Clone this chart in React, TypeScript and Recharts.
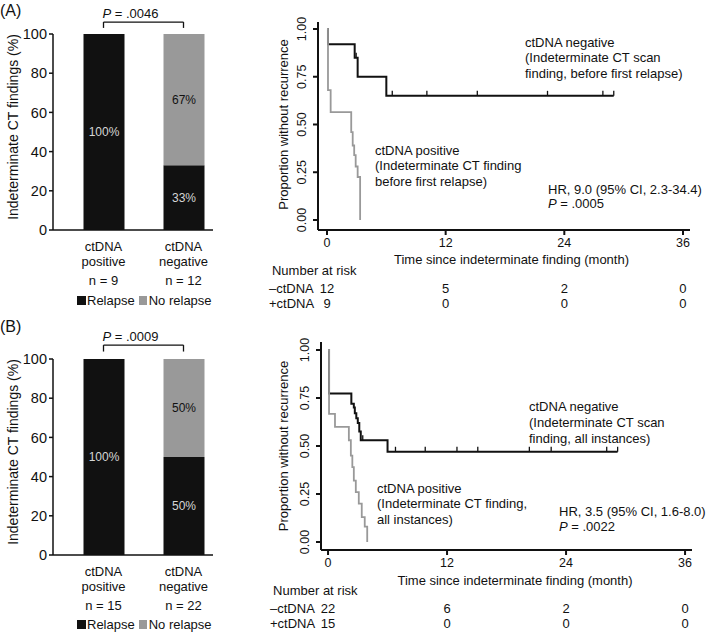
import React from 'react';
import {
  BarChart,
  Bar,
  XAxis,
  YAxis,
  LabelList,
  ReferenceLine,
  Label,
  Legend,
  LineChart,
  Line,
} from 'recharts';

const FONT = '"Liberation Sans", Arial, Helvetica, sans-serif';
const INK = '#111';
const GREY = '#999';

// ---- stacked bar panels ----
const groupNames = ['ctDNA positive', 'ctDNA negative'];
const groupSizesA = [9, 12];
const groupSizesB = [15, 22];
const relapseA = [100, 33];
const noRelapseA = [0, 67];
const relapseB = [100, 50];
const noRelapseB = [0, 50];
const barTicks = [0, 20, 40, 60, 80, 100];
const legendOrder = ['Relapse', 'No relapse'];
const pBarA = '.0046';
const pBarB = '.0009';

// ---- Kaplan-Meier panels ----
const kmTicksX = [0, 12, 24, 36];
const kmTicksY = [0, 0.25, 0.5, 0.75, 1];

const negTimesA = [0, 0.1, 2.8, 3.1, 6.0, 29.0];
const negSurvA = [1, 0.92, 0.85, 0.75, 0.65, 0.65];
const negCensorA = [2.95, 6.6, 10.1, 15.2, 22.3, 27.9, 29.0];
const posTimesA = [0, 0.1, 0.37, 2.45, 2.6, 2.75, 2.9, 3.1, 3.35];
const posSurvA = [1, 0.68, 0.565, 0.46, 0.39, 0.34, 0.28, 0.225, 0];
const riskNegA = [12, 5, 2, 0];
const riskPosA = [9, 0, 0, 0];

const negTimesB = [0, 0.1, 2.35, 2.6, 2.7, 2.85, 3.0, 3.15, 3.3, 6.0, 29.2];
const negSurvB = [1, 0.774, 0.72, 0.7, 0.67, 0.645, 0.62, 0.575, 0.53, 0.47, 0.47];
const negCensorB = [3.5, 6.8, 9.8, 13.0, 15.1, 20.3, 22.5, 28.1, 29.2];
const posTimesB = [0, 0.1, 0.7, 2.1, 2.3, 2.45, 2.6, 2.8, 3.1, 3.4, 3.7, 3.95];
const posSurvB = [1, 0.667, 0.6, 0.53, 0.45, 0.39, 0.32, 0.26, 0.2, 0.13, 0.08, 0];
const riskNegB = [22, 6, 2, 0];
const riskPosB = [15, 0, 0, 0];

const negNoteA = ['ctDNA negative', '(Indeterminate CT scan', 'finding, before first relapse)'];
const posNoteA = ['ctDNA positive', '(Indeterminate CT finding', 'before first relapse)'];
const hrA = ['HR, 9.0 (95% CI, 2.3-34.4)', '.0005'];
const negNoteB = ['ctDNA negative', '(Indeterminate CT scan', 'finding, all instances)'];
const posNoteB = ['ctDNA positive', '(Indeterminate CT finding,', 'all instances)'];
const hrB = ['HR, 3.5 (95% CI, 1.6-8.0)', '.0022'];

const barRows = (sizes: number[], relapse: number[], noRelapse: number[]) =>
  groupNames.map((name, i) => ({ name, n: sizes[i], relapse: relapse[i], noRelapse: noRelapse[i] }));

// step points plus censor marks placed on the current step level
function buildCurve(times: number[], surv: number[], censors: number[] = []) {
  const pts = times.map((t, i) => ({ t, s: surv[i], censored: false }));
  censors.forEach((c) => {
    let s = surv[0];
    times.forEach((t, i) => {
      if (t <= c) s = surv[i];
    });
    pts.push({ t: c, s, censored: true });
  });
  return pts.sort((a, b) => a.t - b.t);
}

const censorDot = (props: any) => {
  const { cx, cy, payload, index } = props;
  if (!payload || !payload.censored) return <g key={`d-${index}`} />;
  return <line key={`d-${index}`} x1={cx} y1={cy - 5} x2={cx} y2={cy} stroke={INK} strokeWidth={1.3} />;
};

function BarPanel({ top, height, marginTop, rows, pText, bracketY, bracketEndY, legendTop, titleY }: any) {
  const plotH = 196;
  const renderTick = (p: any) => {
    const row = rows.find((r: any) => r.name === p.payload.value);
    const [w1, w2] = String(p.payload.value).split(' ');
    return (
      <g>
        <text x={p.x} y={p.y + 20.5} textAnchor="middle" fontSize={13} fill={INK}>{w1}</text>
        <text x={p.x} y={p.y + 35.5} textAnchor="middle" fontSize={13} fill={INK}>{w2}</text>
        <text x={p.x} y={p.y + 54.5} textAnchor="middle" fontSize={13} fill={INK}>{`n = ${row ? row.n : ''}`}</text>
      </g>
    );
  };
  const pLabel = (props: any) => {
    const vb = props.viewBox || {};
    return (
      <text x={(vb.x ?? 0) - 1} y={(vb.y ?? 0) - 4} fontSize={13} fill={INK}>
        <tspan fontStyle="italic">P</tspan> = {pText}
      </text>
    );
  };
  return (
    <div style={{ position: 'absolute', left: 0, top }}>
      <BarChart
        width={240}
        height={height}
        data={rows}
        margin={{ top: marginTop, right: 27, left: 13, bottom: height - marginTop - plotH - 30 }}
      >
        <XAxis
          dataKey="name"
          type="category"
          height={30}
          interval={0}
          axisLine={{ stroke: INK, strokeWidth: 1.5 }}
          tickLine={false}
          tickSize={0}
          tickMargin={0}
          padding={{ left: 10.5, right: -10.5 }}
          tick={renderTick}
        />
        <YAxis
          type="number"
          domain={[0, 100]}
          ticks={barTicks}
          width={40}
          axisLine={{ stroke: INK, strokeWidth: 1.5 }}
          tickLine={{ stroke: INK, strokeWidth: 1.5 }}
          tickSize={4}
          tickMargin={2}
          tick={{ fill: INK, fontSize: 14.5 }}
        />
        <Bar dataKey="relapse" name="Relapse" stackId="s" fill={INK} barSize={41} isAnimationActive={false}>
          <LabelList dataKey="relapse" position="center" fill="#d6d6d6" fontSize={12} formatter={(v: any) => `${v}%`} />
        </Bar>
        <Bar dataKey="noRelapse" name="No relapse" stackId="s" fill={GREY} barSize={41} isAnimationActive={false}>
          <LabelList
            dataKey="noRelapse"
            position="center"
            fill={INK}
            fontSize={12}
            formatter={(v: any) => (v > 0 ? `${v}%` : '')}
          />
        </Bar>
        <ReferenceLine
          segment={[{ x: groupNames[0], y: bracketY }, { x: groupNames[1], y: bracketY }]}
          ifOverflow="visible"
          stroke={INK}
          strokeWidth={1.3}
        >
          <Label content={pLabel} />
        </ReferenceLine>
        {groupNames.map((g) => (
          <ReferenceLine
            key={g}
            segment={[{ x: g, y: bracketY }, { x: g, y: bracketEndY }]}
            ifOverflow="visible"
            stroke={INK}
            strokeWidth={1.3}
          />
        ))}
        <Legend
          verticalAlign="middle"
          align="center"
          layout="horizontal"
          wrapperStyle={{ top: legendTop, left: 77, width: 160, height: 16 }}
          content={(props: any) => {
            const items = [...(props.payload || [])].sort(
              (a: any, b: any) => legendOrder.indexOf(a.value) - legendOrder.indexOf(b.value)
            );
            return (
              <div style={{ display: 'flex', alignItems: 'center', fontSize: 13, color: INK, whiteSpace: 'nowrap', fontFamily: FONT }}>
                {items.map((it: any) => (
                  <span key={it.value} style={{ display: 'flex', alignItems: 'center', marginRight: 4 }}>
                    <span style={{ width: 8.5, height: 8.5, background: it.color, marginRight: 1.5, display: 'inline-block' }} />
                    {it.value}
                  </span>
                ))}
              </div>
            );
          }}
        />
        <text transform={`translate(13,${titleY}) rotate(-90)`} textAnchor="middle" dy="0.35em" fontSize={14} fill={INK}>
          Indeterminate CT findings (%)
        </text>
      </BarChart>
    </div>
  );
}

function KmPanel({ top, height, marginLeft, marginRight, xDomain, yDomain, neg, pos, riskNeg, riskPos, negNote, posNote, hr, titleX, titleY, yTitleY }: any) {
  const renderXTick = (p: any) => {
    const i = kmTicksX.indexOf(p.payload.value);
    return (
      <g fill={INK}>
        <text x={p.x} y={p.y + 12} textAnchor="middle" fontSize={12.5}>{p.payload.value}</text>
        <text x={p.x} y={p.y + 57.5} textAnchor="middle" fontSize={13}>{riskNeg[i]}</text>
        <text x={p.x} y={p.y + 72.5} textAnchor="middle" fontSize={13}>{riskPos[i]}</text>
        {i === 0 && (
          <>
            <text x={p.x - 55} y={p.y + 40} fontSize={13}>Number at risk</text>
            <text x={p.x - 58} y={p.y + 57.5} fontSize={13}>–ctDNA</text>
            <text x={p.x - 58} y={p.y + 72.5} fontSize={13}>+ctDNA</text>
          </>
        )}
      </g>
    );
  };
  const renderYTick = (p: any) => (
    <text
      transform={`translate(${p.x - 11},${p.y}) rotate(-90)`}
      textAnchor="middle"
      dy="0.35em"
      fontSize={12.5}
      fill={INK}
    >
      {Number(p.payload.value).toFixed(2)}
    </text>
  );
  const note = (lines: string[], x: number, y0: number, step: number) =>
    lines.map((l, i) => (
      <text key={l} x={x} y={y0 + i * step + 4.5} fontSize={13} fill={INK}>{l}</text>
    ));
  return (
    <div style={{ position: 'absolute', left: 240, top }}>
      <LineChart
        width={469}
        height={height}
        margin={{ top: 22, right: marginRight, left: marginLeft, bottom: height - 22 - 208 - 30 }}
      >
        <XAxis
          dataKey="t"
          type="number"
          domain={xDomain}
          allowDataOverflow
          ticks={kmTicksX}
          interval={0}
          height={30}
          axisLine={{ stroke: INK, strokeWidth: 2 }}
          tickLine={{ stroke: INK, strokeWidth: 2 }}
          tickSize={5}
          tickMargin={0}
          tick={renderXTick}
        />
        <YAxis
          dataKey="s"
          type="number"
          domain={yDomain}
          allowDataOverflow
          ticks={kmTicksY}
          width={60}
          axisLine={{ stroke: INK, strokeWidth: 2 }}
          tickLine={{ stroke: INK, strokeWidth: 2 }}
          tickSize={5}
          tickMargin={0}
          tick={renderYTick}
        />
        <Line data={neg} dataKey="s" type="stepAfter" stroke={INK} strokeWidth={2} dot={censorDot} activeDot={false} isAnimationActive={false} />
        <Line data={pos} dataKey="s" type="stepAfter" stroke={GREY} strokeWidth={1.8} dot={false} activeDot={false} isAnimationActive={false} />
        <text transform={`translate(43,${yTitleY}) rotate(-90)`} textAnchor="middle" dy="0.35em" fontSize={13} fill={INK}>
          Proportion without recurrence
        </text>
        <text x={titleX} y={titleY} textAnchor="middle" fontSize={13} fill={INK}>
          Time since indeterminate finding (month)
        </text>
        {note(negNote, negNote.x, negNote.y, 15.7)}
        {note(posNote, posNote.x, posNote.y, 15.3)}
        <text x={hr.x} y={hr.y + 4.5} fontSize={13} fill={INK}>{hr.lines[0]}</text>
        <text x={hr.x} y={hr.y + 19} fontSize={13} fill={INK}>
          <tspan fontStyle="italic">P</tspan> = {hr.lines[1]}
        </text>
      </LineChart>
    </div>
  );
}

const withPos = (lines: string[], x: number, y: number) => Object.assign([...lines], { x, y });

export default function App() {
  return (
    <div
      style={{
        position: 'absolute',
        left: 0,
        top: 0,
        width: 709,
        height: 632,
        background: '#fff',
        fontFamily: FONT,
        color: INK,
      }}
    >
      <div style={{ position: 'absolute', left: 0, top: 2, fontSize: 16 }}>(A)</div>
      <div style={{ position: 'absolute', left: 0, top: 318, fontSize: 16 }}>(B)</div>

      <BarPanel
        top={0}
        height={320}
        marginTop={34}
        rows={barRows(groupSizesA, relapseA, noRelapseA)}
        pText={pBarA}
        bracketY={106.1}
        bracketEndY={103.1}
        legendTop={293}
        titleY={127}
      />
      <BarPanel
        top={320}
        height={312}
        marginTop={39}
        rows={barRows(groupSizesB, relapseB, noRelapseB)}
        pText={pBarB}
        bracketY={107.1}
        bracketEndY={103.8}
        legendTop={297}
        titleY={132}
      />

      <KmPanel
        top={0}
        height={320}
        marginLeft={18}
        marginRight={19}
        xDomain={[-0.91, 36.71]}
        yDomain={[-0.0524, 1.0366]}
        neg={buildCurve(negTimesA, negSurvA, negCensorA)}
        pos={buildCurve(posTimesA, posSurvA)}
        riskNeg={riskNegA}
        riskPos={riskPosA}
        negNote={withPos(negNoteA, 285, 42)}
        posNote={withPos(posNoteA, 135, 150.5)}
        hr={{ lines: hrA, x: 308, y: 189 }}
        titleX={271.5}
        titleY={263.5}
        yTitleY={124.5}
      />
      <KmPanel
        top={320}
        height={312}
        marginLeft={21}
        marginRight={17}
        xDomain={[-0.71, 36.7]}
        yDomain={[-0.0417, 1.0417]}
        neg={buildCurve(negTimesB, negSurvB, negCensorB)}
        pos={buildCurve(posTimesB, posSurvB)}
        riskNeg={riskNegB}
        riskPos={riskPosB}
        negNote={withPos(negNoteB, 289, 86.7)}
        posNote={withPos(posNoteB, 137, 168.5)}
        hr={{ lines: hrB, x: 319, y: 191.7 }}
        titleX={275}
        titleY={264.5}
        yTitleY={126}
      />
    </div>
  );
}
